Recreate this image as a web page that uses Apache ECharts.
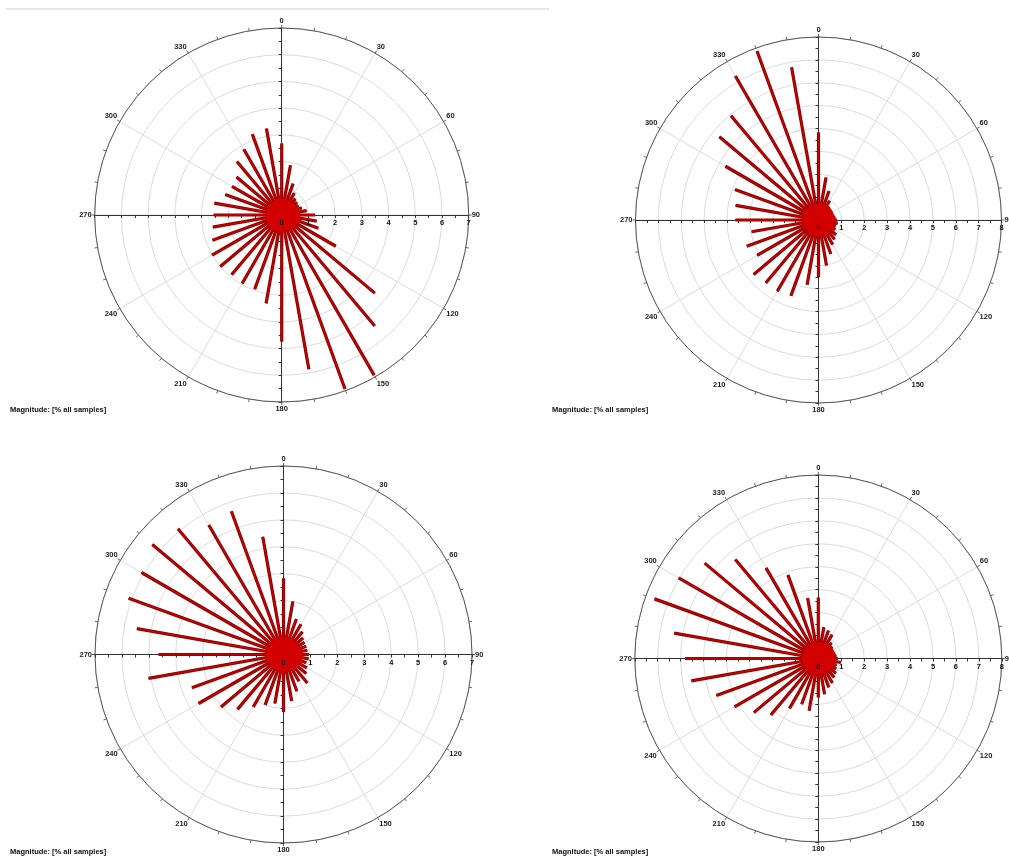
<!DOCTYPE html>
<html><head><meta charset="utf-8">
<script src="https://cdn.jsdelivr.net/npm/echarts@6/dist/echarts.min.js"></script>
<style>html,body{margin:0;padding:0;background:#fff}#c{width:1009px;height:859px}</style>
</head><body><div id="c"></div><script>
// Direction bins (degrees, clockwise from north)
const angles = [0,10,20,30,40,50,60,70,80,90,100,110,120,130,140,150,160,170,180,190,200,210,220,230,240,250,260,270,280,290,300,310,320,330,340,350];
const halfAngles = [5,15,25,35,45,55,65,75,85,95,105,115,125,135,145,155,165,175,185,195,205,215,225,235,245,255,265,275,285,295,305,315,325,335,345,355];

// Magnitude [% all samples] per 10-degree bin
const rose1 = [2.68,1.89,1.25,0.95,0.8,0.75,0.72,0.8,0.95,1.25,1.33,1.46,2.34,4.55,5.42,6.92,6.93,5.86,4.74,3.36,2.96,2.96,2.92,3.0,3.01,2.76,2.62,2.55,2.56,2.25,2.15,2.21,2.61,2.84,3.22,3.29];
const rose2 = [3.83,1.89,1.35,0.97,0.75,0.68,0.65,0.7,0.75,0.8,0.85,0.8,0.85,1.0,1.1,1.24,1.58,2.02,2.5,2.87,3.53,3.6,3.59,3.7,3.1,3.34,2.97,3.63,3.68,3.89,4.7,5.66,5.95,7.27,7.86,6.78];
const rose3 = [2.83,2.0,1.4,1.3,1.1,0.95,0.9,0.9,0.9,0.95,0.95,0.9,1.0,1.1,1.38,1.15,1.45,1.75,2.14,1.85,1.99,2.25,2.66,3.03,3.64,3.62,5.09,4.64,5.53,6.12,6.09,6.36,6.1,5.55,5.66,4.44];
const rose4 = [2.66,1.39,1.3,1.2,0.9,0.8,0.75,0.75,0.8,0.85,1.0,0.85,0.9,1.0,1.08,1.23,1.34,1.58,1.7,2.31,2.12,2.51,3.22,3.67,4.22,4.73,5.62,5.81,6.38,7.6,7.03,6.47,5.63,4.56,3.88,2.68];

// Small in-between bins forming the dense core
const core1 = [0.6,0.62,0.64,0.6,0.58,0.62,0.6,0.63,0.66,0.65,0.68,0.7,0.66,0.64,0.62,0.6,0.62,0.64,0.6,0.58,0.6,0.62,0.6,0.6,0.58,0.6,0.62,0.6,0.58,0.6,0.62,0.6,0.58,0.6,0.62,0.6];
const core2 = [0.7,0.72,0.7,0.68,0.7,0.72,0.7,0.68,0.72,0.74,0.76,0.74,0.72,0.7,0.72,0.7,0.68,0.7,0.72,0.7,0.7,0.72,0.7,0.68,0.7,0.72,0.7,0.7,0.68,0.7,0.72,0.7,0.7,0.72,0.7,0.7];
const core3 = [0.64,0.66,0.66,0.64,0.62,0.64,0.66,0.68,0.7,0.7,0.72,0.7,0.68,0.66,0.64,0.64,0.62,0.64,0.66,0.64,0.62,0.64,0.66,0.64,0.62,0.64,0.66,0.64,0.62,0.64,0.66,0.64,0.62,0.64,0.66,0.64];
const core4 = [0.7,0.72,0.74,0.72,0.7,0.72,0.74,0.76,0.74,0.72,0.74,0.72,0.7,0.72,0.7,0.68,0.7,0.72,0.7,0.7,0.72,0.7,0.68,0.7,0.72,0.7,0.7,0.72,0.7,0.68,0.7,0.72,0.7,0.7,0.72,0.7];

const axisMax = [7, 8, 7, 8];
const axisTitle = 'Magnitude: [% all samples]';

// Layout (positions/sizes)
const layouts = [
  {cx: 281.7, cy: 215, R: 187, tx: 10, ty: 411},
  {cx: 818.5, cy: 220, R: 183, tx: 552, ty: 411},
  {cx: 283.5, cy: 654.5, R: 188.5, tx: 10, ty: 853},
  {cx: 818.3, cy: 658.5, R: 183.5, tx: 552, ty: 853}
];
const roses = [rose1, rose2, rose3, rose4];
const cores = [core1, core2, core3, core4];

const FONT = 'Liberation Sans';
const polar = [], angleAxis = [], radiusAxis = [], grid = [], xAxis = [], yAxis = [], series = [], graphic = [];

function spoke(params, api) {
  const r = api.value(0), a = api.value(1);
  const p0 = api.coord([0, a]);
  const p1 = api.coord([r, a]);
  const shape = {x1: p0[0], y1: p0[1], x2: p1[0], y2: p1[1]};
  return {type: 'group', children: [
    {type: 'line', shape: shape, style: {stroke: '#8c0000', lineWidth: 3.2, lineCap: 'butt'}},
    {type: 'line', shape: shape, style: {stroke: '#c80000', lineWidth: 1.3, lineCap: 'butt'}}
  ]};
}
function coreSpoke(params, api) {
  const r = api.value(0), a = api.value(1);
  const p0 = api.coord([0, a]);
  const p1 = api.coord([r, a]);
  return {type: 'line', shape: {x1: p0[0], y1: p0[1], x2: p1[0], y2: p1[1]},
    style: {stroke: '#d20000', lineWidth: 4, lineCap: 'butt'}};
}

const labelStyle = {fontSize: 7.5, fontWeight: 'bold', color: '#111', fontFamily: FONT};

layouts.forEach((L, i) => {
  const m = axisMax[i];
  polar.push({center: [L.cx, L.cy], radius: L.R});
  angleAxis.push({
    polarIndex: i, type: 'value', min: 0, max: 360, interval: 30,
    startAngle: 90, clockwise: true, z: 0,
    axisLine: {lineStyle: {color: '#555', width: 1}},
    axisTick: {show: true, length: 3, inside: false, lineStyle: {color: '#666'}},
    minorTick: {show: true, splitNumber: 3, length: 3, lineStyle: {color: '#666'}},
    axisLabel: Object.assign({margin: 3, color: '#222',
      formatter: v => (v === 360 ? '' : String(v))}, {fontSize: 7.5, fontWeight: 'bold', fontFamily: FONT}),
    splitLine: {show: true, lineStyle: {color: '#dcdcdc', width: 1}}
  });
  radiusAxis.push({
    polarIndex: i, type: 'value', min: 0, max: m, interval: 1, z: 0,
    axisLine: {show: false}, axisTick: {show: false}, axisLabel: {show: false},
    splitLine: {show: true, lineStyle: {color: '#dcdcdc', width: 1}}
  });
  grid.push({left: L.cx - L.R, top: L.cy - L.R, width: 2 * L.R, height: 2 * L.R, containLabel: false});
  // cross axis line + ticks (beneath the spokes)
  xAxis.push({
    gridIndex: i, type: 'value', min: -m, max: m, interval: 0.5, position: 'bottom', offset: -L.R, z: 1,
    axisLine: {onZero: false, lineStyle: {color: '#333', width: 1}},
    axisTick: {show: true, length: 3, lineStyle: {color: '#333'}},
    axisLabel: {show: false}, splitLine: {show: false}
  });
  yAxis.push({
    gridIndex: i, type: 'value', min: -m, max: m, interval: 0.5, position: 'left', offset: -L.R, z: 1,
    axisLine: {onZero: false, lineStyle: {color: '#333', width: 1}},
    axisTick: {show: true, length: 3, lineStyle: {color: '#333'}},
    axisLabel: {show: false}, splitLine: {show: false}
  });
  series.push({
    type: 'custom', coordinateSystem: 'polar', polarIndex: i, silent: true, z: 3,
    renderItem: spoke,
    data: roses[i].map((v, k) => [v, angles[k]])
  });
  series.push({
    type: 'custom', coordinateSystem: 'polar', polarIndex: i, silent: true, z: 4,
    renderItem: coreSpoke,
    data: cores[i].map((v, k) => [v, halfAngles[k]]).concat(cores[i].map((v, k) => [v, angles[k]]))
  });
  graphic.push({type: 'text', left: L.tx, top: L.ty - 5,
    style: {text: axisTitle, fontSize: 7.5, fontWeight: 'bold', fill: '#111', fontFamily: FONT}});
});
// radial magnitude labels (on top of the spokes)
layouts.forEach((L, i) => {
  const m = axisMax[i];
  xAxis.push({
    gridIndex: i, type: 'value', min: -m, max: m, interval: 0.5, position: 'bottom', offset: -L.R, z: 10,
    axisLine: {show: false, onZero: false}, axisTick: {show: false}, splitLine: {show: false},
    axisLabel: Object.assign({margin: 4, showMinLabel: true, showMaxLabel: true,
      formatter: v => (v >= 0 && Math.abs(v % 1) < 1e-9 ? String(v) : '')}, labelStyle)
  });
});

graphic.push({type: 'rect', shape: {x: 6, y: 8, width: 543, height: 2}, style: {fill: '#e6e6e6'}, z: -1});

const chart = echarts.init(document.getElementById('c'), null, {renderer: 'canvas'});
chart.setOption({
  animation: false,
  backgroundColor: '#fff',
  polar, angleAxis, radiusAxis, grid, xAxis, yAxis, series, graphic
});
</script></body></html>
